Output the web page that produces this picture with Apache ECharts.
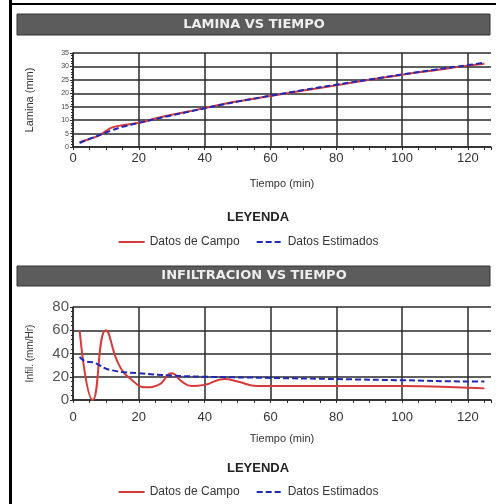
<!DOCTYPE html>
<html><head><meta charset="utf-8">
<script src="https://cdn.jsdelivr.net/npm/echarts@6/dist/echarts.min.js"></script>
<style>html,body{margin:0;padding:0;background:#fff}#c{width:496px;height:504px}</style>
</head><body><div id="c"></div>
<script>
const titles = ['LAMINA VS TIEMPO', 'INFILTRACION VS TIEMPO'];
const legendNames = ['Datos de Campo', 'Datos Estimados'];
const xTitle = 'Tiempo (min)';
const yTitles = ['Lamina (mm)', 'Infil. (mm/Hr)'];

const laminaCampoX = [2, 5, 8, 10, 12, 15, 20, 25, 30, 35, 40, 45, 50, 60, 70, 80, 90, 100, 110, 120, 125];
const laminaCampoY = [1.8, 3, 4.3, 6, 7.3, 8.1, 9, 10.6, 12, 13.2, 14.5, 15.8, 17, 19, 21, 23, 25, 26.9, 28.6, 30.3, 31];
const laminaEstX = [2, 5, 8, 10, 12, 15, 20, 25, 30, 35, 40, 45, 50, 60, 70, 80, 90, 100, 110, 120, 125];
const laminaEstY = [1.5, 3, 4.4, 5.4, 6.3, 7.5, 9, 10.4, 11.8, 13.1, 14.4, 15.7, 16.9, 19.1, 21.2, 23.2, 25.1, 27, 28.8, 30.5, 31.4];

const infilCampoX = [2, 6, 10, 14, 18, 22, 26, 30, 33, 36, 40, 46, 50, 56, 60, 80, 100, 120, 125];
const infilCampoY = [60, 0, 60, 30, 17, 11, 13, 23, 16, 12, 13, 18, 16, 12, 12, 12, 12, 10.5, 10];
const infilEstX = [2, 4, 6, 8, 10, 12, 15, 20, 30, 40, 60, 80, 100, 120, 125];
const infilEstY = [37, 33, 32.5, 30, 27, 25.5, 24, 23, 21, 20, 19, 18, 17, 16, 16];

const zip = (xs, ys) => xs.map((x, i) => [x, ys[i]]);
const RED = '#d83a3a', BLUE = '#2028b8', GRID = '#2a2a2a';
const FONT = 'Liberation Sans';

function xAxis(gi) {
  return {
    type: 'value', gridIndex: gi, min: 0, max: 127, interval: 20,
    name: xTitle, nameLocation: 'middle', nameGap: gi === 0 ? 31 : 33,
    nameTextStyle: { fontFamily: FONT, fontSize: 11, color: '#333' },
    axisLine: { show: true, lineStyle: { color: GRID, width: 1.5 } },
    axisTick: { show: true, length: 3, lineStyle: { color: GRID } },
    minorTick: { show: true, splitNumber: 4, length: 3, lineStyle: { color: GRID } },
    axisLabel: { fontFamily: FONT, fontSize: 13, color: '#333', margin: gi === 0 ? 5 : 11, showMaxLabel: false },
    splitLine: { show: true, showMaxLine: false, lineStyle: { color: GRID, width: 1.5 } }
  };
}

const legendCommon = { left: 'center', itemWidth: 26, itemHeight: 12, itemGap: 16,
  itemStyle: { opacity: 0 },
  textStyle: { fontFamily: FONT, fontSize: 12, color: '#333' } };

const chart = echarts.init(document.getElementById('c'));
chart.setOption({
  backgroundColor: '#fff',
  animation: false,
  grid: [
    { left: 73, right: 5, top: 53, height: 94 },
    { left: 73, right: 5, top: 307, height: 93 }
  ],
  xAxis: [xAxis(0), xAxis(1)],
  yAxis: [
    {
      type: 'value', gridIndex: 0, min: 0, max: 35, interval: 5,
      name: yTitles[0], nameLocation: 'middle', nameGap: 38,
      nameTextStyle: { fontFamily: FONT, fontSize: 11, color: '#333' },
      axisLine: { show: true, lineStyle: { color: GRID, width: 1.5 } },
      axisTick: { show: true, length: 3, lineStyle: { color: GRID } },
      minorTick: { show: true, splitNumber: 5, length: 2, lineStyle: { color: GRID } },
      axisLabel: { fontFamily: FONT, fontSize: 7, color: '#444', margin: 4 },
      splitLine: { show: true, lineStyle: { color: GRID, width: 1.5 } }
    },
    {
      type: 'value', gridIndex: 1, min: 0, max: 80, interval: 20,
      name: yTitles[1], nameLocation: 'middle', nameGap: 38,
      nameTextStyle: { fontFamily: FONT, fontSize: 10, color: '#333' },
      axisLine: { show: true, lineStyle: { color: GRID, width: 1.5 } },
      axisTick: { show: true, length: 3, lineStyle: { color: GRID } },
      minorTick: { show: true, splitNumber: 5, length: 2, lineStyle: { color: GRID } },
      axisLabel: { fontFamily: FONT, fontSize: 15, color: '#555', margin: 4 },
      splitLine: { show: true, lineStyle: { color: GRID, width: 1.5 } }
    }
  ],
  legend: [
    Object.assign({ data: legendNames, top: 231 }, legendCommon),
    Object.assign({ data: legendNames, top: 481 }, legendCommon)
  ],
  series: [
    { name: legendNames[0], type: 'line', xAxisIndex: 0, yAxisIndex: 0, data: zip(laminaCampoX, laminaCampoY),
      smooth: 0.4, showSymbol: false, symbol: 'none', lineStyle: { color: RED, width: 2 }, itemStyle: { color: RED } },
    { name: legendNames[1], type: 'line', xAxisIndex: 0, yAxisIndex: 0, data: zip(laminaEstX, laminaEstY),
      smooth: 0.4, showSymbol: false, symbol: 'none', lineStyle: { color: BLUE, width: 2, type: [6, 3] }, itemStyle: { color: BLUE } },
    { name: legendNames[0], type: 'line', xAxisIndex: 1, yAxisIndex: 1, data: zip(infilCampoX, infilCampoY),
      smooth: 0.5, showSymbol: false, symbol: 'none', lineStyle: { color: RED, width: 2 }, itemStyle: { color: RED } },
    { name: legendNames[1], type: 'line', xAxisIndex: 1, yAxisIndex: 1, data: zip(infilEstX, infilEstY),
      smooth: 0.4, showSymbol: false, symbol: 'none', lineStyle: { color: BLUE, width: 2, type: [6, 3] }, itemStyle: { color: BLUE } }
  ],
  graphic: [
    { type: 'rect', shape: { x: 9, y: 0, width: 3, height: 504 }, style: { fill: '#000' } },
    { type: 'rect', shape: { x: 9, y: 3, width: 487, height: 2 }, style: { fill: '#000' } },
    { type: 'rect', shape: { x: 17, y: 14, width: 473, height: 21 }, style: { fill: '#5c5c5c', stroke: '#333', lineWidth: 1 } },
    { type: 'text', x: 254, y: 24.5, style: { text: titles[0], fill: '#eee', font: 'bold 13px "DejaVu Sans"', align: 'center', verticalAlign: 'middle' } },
    { type: 'rect', shape: { x: 17, y: 266, width: 473, height: 20 }, style: { fill: '#5c5c5c', stroke: '#333', lineWidth: 1 } },
    { type: 'text', x: 254, y: 276, style: { text: titles[1], fill: '#eee', font: 'bold 13px "DejaVu Sans"', align: 'center', verticalAlign: 'middle' } },
    { type: 'text', x: 258, y: 217, style: { text: 'LEYENDA', fill: '#222', font: 'bold 13px "Liberation Sans Narrow", "Liberation Sans"', align: 'center', verticalAlign: 'middle' } },
    { type: 'text', x: 258, y: 468, style: { text: 'LEYENDA', fill: '#222', font: 'bold 13px "Liberation Sans Narrow", "Liberation Sans"', align: 'center', verticalAlign: 'middle' } }
  ]
});
</script></body></html>
